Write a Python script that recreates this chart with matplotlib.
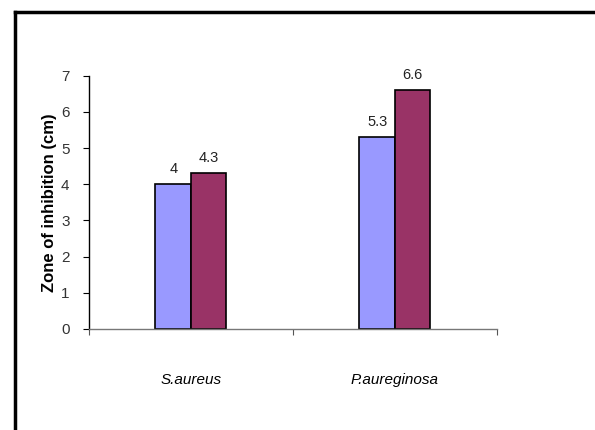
import matplotlib
matplotlib.use("Agg")
import matplotlib.pyplot as plt
from matplotlib.lines import Line2D
import numpy as np

# Zone of inhibition for two organisms, two treatments each
organisms = ["S.aureus", "P.aureginosa"]
series_a = [4.0, 5.3]
series_b = [4.3, 6.6]
y_ticks = [0, 1, 2, 3, 4, 5, 6, 7]

plt.rcParams["font.family"] = ["Liberation Sans", "DejaVu Sans"]

fig = plt.figure(figsize=(5.95, 4.30), dpi=100)
ax = fig.add_axes([0.1496, 0.235, 0.6854, 0.589])

x = np.arange(len(organisms))
w = 0.174
bars_a = ax.bar(x - w / 2, series_a, width=w, color="#9999FF",
                edgecolor="black", linewidth=1.2)
bars_b = ax.bar(x + w / 2, series_b, width=w, color="#993366",
                edgecolor="black", linewidth=1.2)

for bars, vals in ((bars_a, series_a), (bars_b, series_b)):
    for b, v in zip(bars, vals):
        ax.annotate(f"{v:g}", (b.get_x() + b.get_width() / 2, v),
                    xytext=(0, 6), textcoords="offset points",
                    ha="center", va="bottom", fontsize=10.5, color="#222222")

ax.set_xlim(-0.5, len(organisms) - 0.5)
ax.set_ylim(0, 7)
ax.set_yticks(y_ticks)
ax.set_yticklabels([str(t) for t in y_ticks], fontsize=11, color="#333333")

# Category boundaries carry the tick marks, names sit between them
ax.set_xticks(np.arange(len(organisms) + 1) - 0.5)
ax.set_xticklabels([])
ax.set_xticks(x, minor=True)
ax.set_xticklabels(organisms, minor=True, fontsize=11, style="italic")
ax.tick_params(axis="x", which="minor", length=0, pad=32)
ax.tick_params(axis="x", which="major", length=4, width=0.8, direction="out", color="#555555")
ax.tick_params(axis="y", length=4, width=0.8, direction="out", pad=10)

for side in ("top", "right"):
    ax.spines[side].set_visible(False)
ax.spines["left"].set_color("black")
ax.spines["left"].set_linewidth(1.0)
ax.spines["bottom"].set_color("#777777")
ax.spines["bottom"].set_linewidth(1.0)

ax.set_ylabel("Zone of inhibition (cm)", fontsize=12, fontweight="bold", labelpad=3)

# Outer frame (top and left edges)
fig.add_artist(Line2D([0.025, 1.0], [1 - 12 / 430, 1 - 12 / 430],
                      transform=fig.transFigure, color="black", linewidth=2.5))
fig.add_artist(Line2D([15 / 595, 15 / 595], [0.0, 1 - 12 / 430],
                      transform=fig.transFigure, color="black", linewidth=2.5))

fig.savefig("out.png", dpi=100)
